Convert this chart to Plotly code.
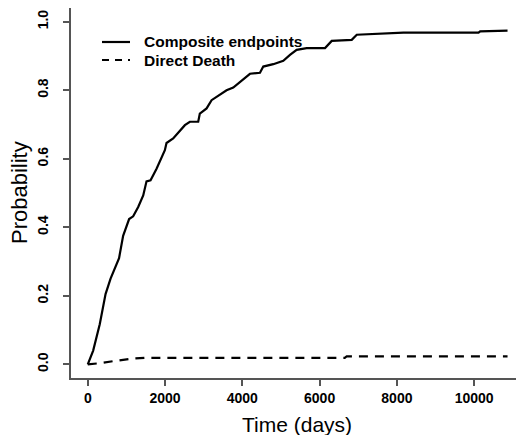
import plotly.graph_objects as go

# Composite endpoints cumulative probability
comp_t = [0, 140, 310, 460, 590, 700, 810, 915, 1070, 1175, 1305, 1435, 1520, 1625, 1780, 1995,
          2038, 2210, 2513, 2642, 2858, 2900, 3075, 3204, 3420, 3592, 3765, 3938, 4197, 4456,
          4542, 4801, 5060, 5233, 5406, 5665, 6140, 6313, 6831, 6961, 7565, 8168, 10112, 10155, 10863]
comp_p = [0.0, 0.04, 0.117, 0.205, 0.25, 0.28, 0.31, 0.375, 0.424, 0.432, 0.459, 0.493, 0.534, 0.537, 0.571, 0.625,
          0.646, 0.659, 0.698, 0.708, 0.708, 0.732, 0.747, 0.771, 0.786, 0.80, 0.808, 0.825, 0.848, 0.851,
          0.869, 0.876, 0.886, 0.903, 0.918, 0.923, 0.923, 0.944, 0.947, 0.962, 0.965, 0.968, 0.968, 0.972, 0.974]

# Direct death cumulative probability
death_t = [0, 300, 650, 1100, 1500, 6650, 6700, 10863]
death_p = [0.0, 0.003, 0.009, 0.016, 0.019, 0.019, 0.023, 0.023]

x_ticks = [0, 2000, 4000, 6000, 8000, 10000]
y_ticks = [0.0, 0.2, 0.4, 0.6, 0.8, 1.0]
y_tick_labels = ["0.0", "0.2", "0.4", "0.6", "0.8", "1.0"]
legend_names = ["Composite endpoints", "Direct Death"]
x_title = "Time (days)"
y_title = "Probability"

FONT = "Arial, Liberation Sans, Helvetica, sans-serif"

fig = go.Figure()
fig.add_trace(go.Scatter(x=comp_t, y=comp_p, mode="lines", name=legend_names[0],
                         line=dict(color="black", width=2.2)))
fig.add_trace(go.Scatter(x=death_t, y=death_p, mode="lines", name=legend_names[1],
                         line=dict(color="black", width=2.2, dash="9px,7px")))

# page has an 8px body margin; plot area spans page x 71..524, y 8..378
def px_x(px):
    return (px - 71) / 453

def px_y(py):
    return (378 - py) / 370

legend_rows = [(42, "solid"), (60, "dash")]
for (row_y, dash), name in zip(legend_rows, legend_names):
    fig.add_shape(type="line", xref="paper", yref="paper",
                  x0=px_x(102), x1=px_x(130), y0=px_y(row_y), y1=px_y(row_y),
                  line=dict(color="black", width=2.2, dash="7px,6px" if dash == "dash" else "solid"))
    fig.add_annotation(xref="paper", yref="paper", x=px_x(142), y=px_y(row_y),
                       xanchor="left", yanchor="middle", showarrow=False,
                       text=f"<b>{name}</b>", font=dict(size=15.5, family=FONT, color="black"))

# axis titles
fig.add_annotation(xref="paper", yref="paper", x=px_x(297), y=px_y(424),
                   xanchor="center", yanchor="middle", showarrow=False,
                   text=x_title, font=dict(size=21, family=FONT, color="black"))
fig.add_annotation(xref="paper", yref="paper", x=px_x(19), y=px_y(193),
                   xanchor="center", yanchor="middle", showarrow=False, textangle=-90,
                   text=y_title, font=dict(size=22, family=FONT, color="black"))

fig.update_layout(
    width=516, height=427,
    margin=dict(l=63, r=0, t=0, b=57),
    paper_bgcolor="white", plot_bgcolor="white",
    font=dict(family=FONT, color="black"),
    showlegend=False,
    xaxis=dict(range=[-434, 11289], showgrid=False, zeroline=False, automargin=False,
               showline=True, linecolor="#555555", linewidth=1.5,
               ticks="outside", ticklen=6, tickcolor="#555555", tickwidth=1.5,
               tickvals=x_ticks, ticktext=[f"<b>{v}</b>" for v in x_ticks],
               tickfont=dict(size=14, family=FONT, color="black")),
    yaxis=dict(range=[-0.04, 1.04], showgrid=False, zeroline=False, automargin=False,
               showline=True, linecolor="#555555", linewidth=1.5,
               ticks="outside", ticklen=6, tickcolor="#555555", tickwidth=1.5,
               tickvals=y_ticks, ticktext=[f"<b>{v}</b>" for v in y_tick_labels],
               tickangle=-90, ticklabelstandoff=10,
               tickfont=dict(size=14, family=FONT, color="black")),
)

fig.write_html("out.html")
